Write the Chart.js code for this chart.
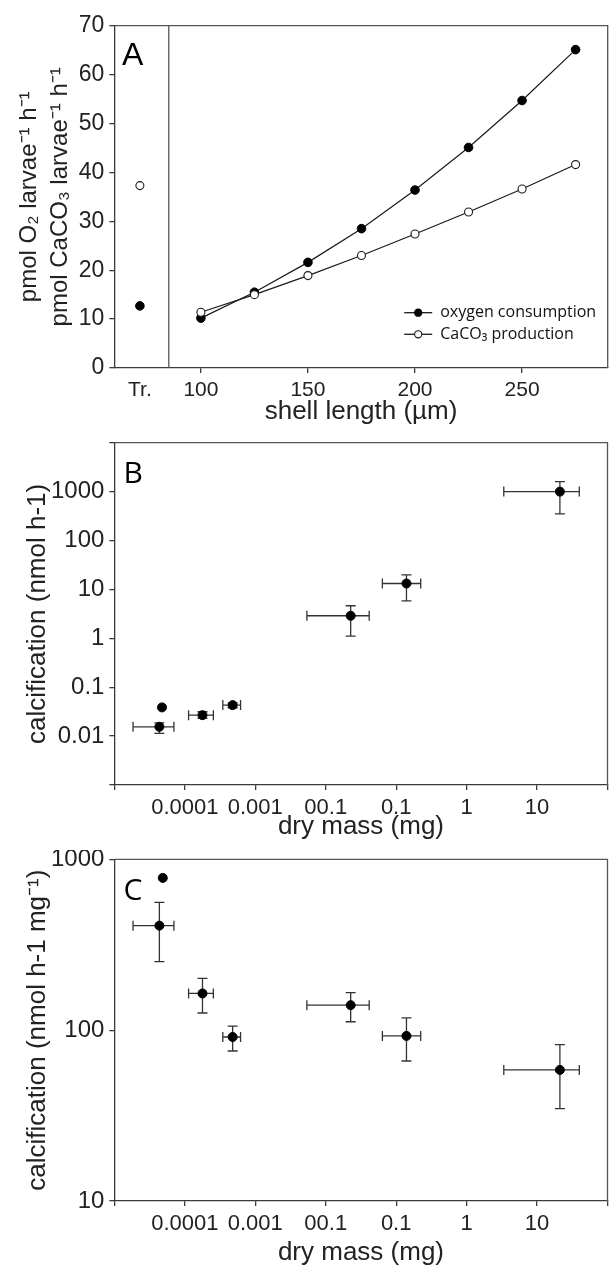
<!DOCTYPE html>
<html>
<head>
<meta charset="utf-8">
<script src="https://cdn.jsdelivr.net/npm/chart.js@4.4.1/dist/chart.umd.min.js"></script>
<style>
  body { margin: 0; background: #fff; }
  #wrap { position: relative; width: 613px; height: 1281px; }
  canvas { position: absolute; left: 0; }
</style>
</head>
<body>
<div id="wrap">
  <canvas id="chartA" width="613" height="430" style="top:0px"></canvas>
  <canvas id="chartB" width="613" height="420" style="top:430px"></canvas>
  <canvas id="chartC" width="613" height="431" style="top:850px"></canvas>
</div>
<script>
// ===================================
// PANEL A DATA (per larva rates vs shell length)
// ===================================
const shellLength = [100, 125, 150, 175, 200, 225, 250, 275];
const oxygenConsumption = [10.2, 15.5, 21.6, 28.5, 36.4, 45.1, 54.7, 65.1];
const caco3Production = [11.4, 15.0, 18.9, 23.0, 27.4, 31.9, 36.6, 41.6];
const trochophoreX = 71.5;      // the "Tr." column on the x axis
const trochophoreOxygen = 12.7;
const trochophoreCaco3 = 37.3;
const dividerX = 85;            // vertical line between Tr. and the shell lengths
const shellTicks = [100, 150, 200, 250];

// ===================================
// PANEL B / C DATA (calcification vs dry mass)
// ===================================
const dryMass     = [4.35e-5, 1.78e-4, 4.77e-4, 0.0226, 0.140, 21.1];
const dryMassLow  = [1.84e-5, 1.13e-4, 3.46e-4, 0.0054, 0.0637, 3.37];
const dryMassHigh = [7.0e-5, 2.54e-4, 6.18e-4, 0.0414, 0.223, 39.8];

const calcPerInd     = [0.0155, 0.0268, 0.043, 2.89, 13.2, 1000];
const calcPerIndLow  = [0.0114, 0.023, 0.038, 1.11, 5.85, 349];
const calcPerIndHigh = [0.0187, 0.0315, 0.048, 4.63, 19.9, 1600];
const trochophoreMassB = 4.74e-5;
const trochophoreCalcB = 0.0386;

const calcPerMass     = [409, 164, 91.2, 140, 92.5, 58.5];
const calcPerMassLow  = [252, 126, 75.5, 112, 66, 34.7];
const calcPerMassHigh = [560, 201, 105.7, 166, 118, 82.2];
const trochophoreMassC = 4.86e-5;
const trochophoreCalcC = 778;

const massTicks = [1e-5, 1e-4, 1e-3, 1e-2, 1e-1, 1, 10, 100];
const massTickLabels = ['', '0.0001', '0.001', '00.1', '0.1', '1', '10', ''];
const calcTicksB = [0.001, 0.01, 0.1, 1, 10, 100, 1000, 10000];
const calcTickLabelsB = ['', '0.01', '0.1', '1', '10', '100', '1000', ''];
const calcTicksC = [10, 100, 1000];
const calcTickLabelsC = ['10', '100', '1000'];

Chart.defaults.font.family = '"Liberation Sans", Arial, sans-serif';
Chart.defaults.color = '#222';

const AXIS_LEFT = 114.4;
const INK = '#1a1a1a';
const AXIS_INK = '#3a3a3a';

// --- small plugins ---
// box lines on top and right of the plot area
const framePlugin = {
  id: 'frame',
  beforeDatasetsDraw(chart) {
    const {ctx, chartArea: a} = chart;
    ctx.save();
    ctx.strokeStyle = '#555';
    ctx.lineWidth = 1.3;
    ctx.beginPath();
    ctx.moveTo(a.left, a.top);
    ctx.lineTo(a.right, a.top);
    ctx.lineTo(a.right, a.bottom);
    ctx.stroke();
    ctx.restore();
  }
};

// the big panel letter
const panelLetterPlugin = {
  id: 'panelLetter',
  afterDraw(chart, args, opts) {
    const {ctx, chartArea: a} = chart;
    ctx.save();
    ctx.fillStyle = '#000';
    ctx.font = opts.font;
    ctx.textBaseline = 'alphabetic';
    ctx.fillText(opts.text, a.left + opts.dx, a.top + opts.dy);
    ctx.restore();
  }
};

const errorBarPlugin = {
  id: 'errorBars',
  beforeDatasetsDraw(chart, args, opts) {
    const {ctx, scales: {x, y}} = chart;
    const c = opts.cap;
    ctx.save();
    ctx.strokeStyle = '#333';
    ctx.lineWidth = 1.3;
    opts.x.forEach((xv, i) => {
      const px = x.getPixelForValue(xv);
      const py = y.getPixelForValue(opts.y[i]);
      const xl = x.getPixelForValue(opts.xLow[i]);
      const xh = x.getPixelForValue(opts.xHigh[i]);
      const yl = y.getPixelForValue(opts.yLow[i]);
      const yh = y.getPixelForValue(opts.yHigh[i]);
      ctx.beginPath();
      ctx.moveTo(xl, py); ctx.lineTo(xh, py);
      ctx.moveTo(xl, py - c); ctx.lineTo(xl, py + c);
      ctx.moveTo(xh, py - c); ctx.lineTo(xh, py + c);
      ctx.moveTo(px, yl); ctx.lineTo(px, yh);
      ctx.moveTo(px - c, yl); ctx.lineTo(px + c, yl);
      ctx.moveTo(px - c, yh); ctx.lineTo(px + c, yh);
      ctx.stroke();
    });
    ctx.restore();
  }
};

// legend drawn inside the plot area, bottom right (panel A)
const innerLegendPlugin = {
  id: 'innerLegend',
  afterDatasetsDraw(chart, args, opts) {
    const {ctx, chartArea: a} = chart;
    ctx.save();
    ctx.font = opts.font;
    ctx.textBaseline = 'middle';
    opts.items.forEach((item, i) => {
      const ds = chart.data.datasets[item.dataset];
      const y = a.bottom - opts.bottomOffset + i * opts.rowGap;
      const x0 = a.right - opts.rightOffset;
      ctx.strokeStyle = ds.borderColor;
      ctx.lineWidth = 1.3;
      ctx.beginPath();
      ctx.moveTo(x0, y);
      ctx.lineTo(x0 + opts.lineLen, y);
      ctx.stroke();
      ctx.beginPath();
      ctx.arc(x0 + opts.lineLen / 2, y, opts.markerR, 0, Math.PI * 2);
      ctx.fillStyle = ds.pointBackgroundColor;
      ctx.fill();
      ctx.lineWidth = 1.1;
      ctx.strokeStyle = ds.pointBorderColor;
      ctx.stroke();
      ctx.fillStyle = '#111';
      ctx.fillText(item.text, x0 + opts.lineLen + opts.textGap, y);
    });
    ctx.restore();
  }
};

function yAxisFit(scale) {
  scale.width = AXIS_LEFT;
  scale.paddingTop = 0;
  scale.paddingBottom = 0;
}

function xAxisFit(height) {
  return function (scale) {
    scale.height = height;
    scale.paddingLeft = 0;
    scale.paddingRight = 0;
  };
}

function gridStyle(hideFn) {
  return {
    drawOnChartArea: false,
    drawTicks: true,
    tickLength: 5,
    lineWidth: 1.3,
    color: hideFn || AXIS_INK
  };
}

// ===================================
// PANEL A
// ===================================
const chartAConfig = {
  type: 'line',
  data: {
    datasets: [
      {
        label: 'divider',
        data: [{x: dividerX, y: 0}, {x: dividerX, y: 70}],
        borderColor: '#555',
        borderWidth: 1.3,
        pointRadius: 0
      },
      {
        label: 'CaCO3 production',
        data: shellLength.map((x, i) => ({x: x, y: caco3Production[i]})),
        borderColor: INK,
        borderWidth: 1.2,
        pointRadius: 4,
        pointBackgroundColor: '#fff',
        pointBorderColor: INK,
        pointBorderWidth: 1.1
      },
      {
        label: 'oxygen consumption',
        data: shellLength.map((x, i) => ({x: x, y: oxygenConsumption[i]})),
        borderColor: INK,
        borderWidth: 1.2,
        pointRadius: 4.3,
        pointBackgroundColor: '#000',
        pointBorderColor: '#000',
        pointBorderWidth: 1
      },
      {
        label: 'Tr. CaCO3',
        data: [{x: trochophoreX, y: trochophoreCaco3}],
        showLine: false,
        pointRadius: 4,
        pointBackgroundColor: '#fff',
        pointBorderColor: INK,
        pointBorderWidth: 1.1
      },
      {
        label: 'Tr. oxygen',
        data: [{x: trochophoreX, y: trochophoreOxygen}],
        showLine: false,
        pointRadius: 4.3,
        pointBackgroundColor: '#000',
        pointBorderColor: '#000'
      }
    ]
  },
  options: {
    responsive: false,
    animation: false,
    devicePixelRatio: 1,
    layout: { padding: { left: 0, right: 3.5, top: 25.7, bottom: 0 } },
    plugins: {
      legend: { display: false },
      tooltip: { enabled: false },
      panelLetter: { text: 'A', font: '32px "Liberation Sans", Arial, sans-serif', dx: 7.5, dy: 39.5 },
      innerLegend: {
        font: '16px "Open Sans", sans-serif',
        items: [
          { dataset: 2, text: 'oxygen consumption' },
          { dataset: 1, text: 'CaCO\u2083 production' }
        ],
        bottomOffset: 55.3, rowGap: 21.6, rightOffset: 203.5,
        lineLen: 28, markerR: 3.6, textGap: 8
      }
    },
    scales: {
      x: {
        type: 'linear',
        min: 59.6,
        max: 290,
        afterFit: xAxisFit(62),
        afterBuildTicks: (scale) => {
          scale.ticks = [trochophoreX].concat(shellTicks).map(v => ({value: v}));
        },
        border: { color: AXIS_INK, width: 1.3 },
        grid: gridStyle((c) => (c.tick && c.tick.value === trochophoreX) ? 'rgba(0,0,0,0)' : AXIS_INK),
        ticks: {
          autoSkip: false, maxRotation: 0, padding: 5,
          font: { size: 21 },
          callback: (v) => v === trochophoreX ? 'Tr.' : String(v)
        },
        title: {
          display: true,
          text: 'shell length (\u00b5m)',
          font: { size: 26 },
          padding: { top: 0, bottom: 2.4 }
        }
      },
      y: {
        min: 0,
        max: 70,
        afterFit: yAxisFit,
        border: { color: AXIS_INK, width: 1.3 },
        grid: gridStyle(),
        ticks: { stepSize: 10, padding: 5, font: { size: 23 } },
        title: {
          display: true,
          text: ['pmol O\u2082 larvae\u207b\u00b9 h\u207b\u00b9', 'pmol CaCO\u2083 larvae\u207b\u00b9 h\u207b\u00b9'],
          font: { size: 24, lineHeight: 1.3 },
          padding: { top: 14, bottom: 0 }
        }
      }
    }
  },
  plugins: [framePlugin, panelLetterPlugin, innerLegendPlugin]
};

new Chart(document.getElementById('chartA').getContext('2d'), chartAConfig);

// ===================================
// PANELS B AND C (log-log scatter with error bars)
// ===================================
function massPanel(opts) {
  return {
    type: 'scatter',
    data: {
      datasets: [
        {
          label: 'mean',
          data: dryMass.map((x, i) => ({x: x, y: opts.values[i]})),
          pointRadius: 4.5,
          pointBackgroundColor: '#000',
          pointBorderColor: '#000'
        },
        {
          label: 'trochophore',
          data: [{x: opts.extraX, y: opts.extraY}],
          pointRadius: 4.5,
          pointBackgroundColor: '#000',
          pointBorderColor: '#000'
        }
      ]
    },
    options: {
      responsive: false,
      animation: false,
      devicePixelRatio: 1,
      layout: { padding: { left: 0, right: 3.5, top: opts.top, bottom: 0 } },
      plugins: {
        legend: { display: false },
        tooltip: { enabled: false },
        panelLetter: { text: opts.letter, font: '30px "Open Sans", sans-serif', dx: 9, dy: opts.letterDy },
        errorBars: {
          x: dryMass, xLow: dryMassLow, xHigh: dryMassHigh,
          y: opts.values, yLow: opts.low, yHigh: opts.high,
          cap: 5
        }
      },
      scales: {
        x: {
          type: 'logarithmic',
          min: massTicks[0],
          max: massTicks[massTicks.length - 1],
          afterFit: xAxisFit(opts.xHeight),
          afterBuildTicks: (scale) => { scale.ticks = massTicks.map(v => ({value: v})); },
          border: { color: AXIS_INK, width: 1.3 },
          grid: gridStyle(),
          ticks: {
            autoSkip: false, maxRotation: 0, padding: 5,
            font: { size: 22 },
            callback: (v, i) => massTickLabels[i]
          },
          title: {
            display: true,
            text: 'dry mass (mg)',
            font: { size: 26 },
            padding: { top: 0, bottom: opts.xTitlePad }
          }
        },
        y: {
          type: 'logarithmic',
          min: opts.yTicks[0],
          max: opts.yTicks[opts.yTicks.length - 1],
          afterFit: yAxisFit,
          afterBuildTicks: (scale) => { scale.ticks = opts.yTicks.map(v => ({value: v})); },
          border: { color: AXIS_INK, width: 1.3 },
          grid: gridStyle(),
          ticks: {
            autoSkip: false, padding: 5,
            font: { size: 24 },
            callback: (v, i) => opts.yLabels[i]
          },
          title: {
            display: true,
            text: opts.yTitle,
            font: { size: 26, lineHeight: 1.2 },
            padding: { top: 22, bottom: 0 }
          }
        }
      }
    },
    plugins: [framePlugin, errorBarPlugin, panelLetterPlugin]
  };
}

new Chart(document.getElementById('chartB').getContext('2d'), massPanel({
  letter: 'B', letterDy: 40.3, top: 12.7, xHeight: 65, xTitlePad: 7.4,
  values: calcPerInd, low: calcPerIndLow, high: calcPerIndHigh,
  extraX: trochophoreMassB, extraY: trochophoreCalcB,
  yTicks: calcTicksB, yLabels: calcTickLabelsB,
  yTitle: 'calcification (nmol h-1)'
}));

new Chart(document.getElementById('chartC').getContext('2d'), massPanel({
  letter: 'C', letterDy: 40.7, top: 9.3, xHeight: 80, xTitlePad: 12.4,
  values: calcPerMass, low: calcPerMassLow, high: calcPerMassHigh,
  extraX: trochophoreMassC, extraY: trochophoreCalcC,
  yTicks: calcTicksC, yLabels: calcTickLabelsC,
  yTitle: 'calcification (nmol h-1 mg\u207b\u00b9)'
}));
</script>
</body>
</html>
